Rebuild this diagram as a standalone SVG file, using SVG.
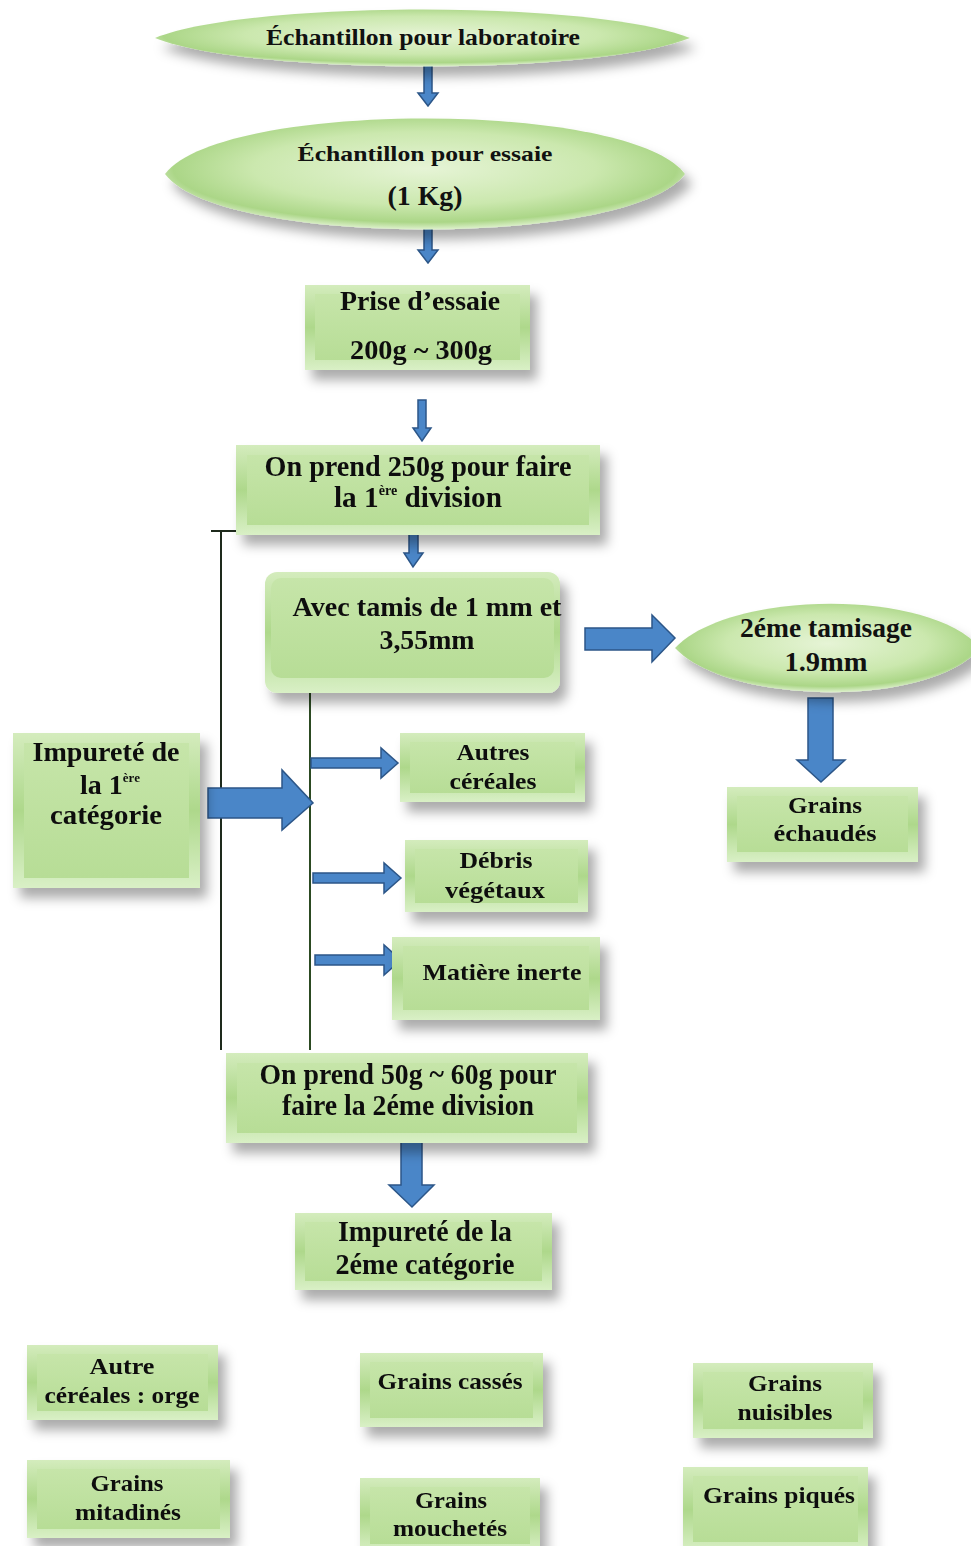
<svg xmlns="http://www.w3.org/2000/svg" width="971" height="1546" viewBox="0 0 971 1546">
<defs>
<filter id="sh" x="-20%" y="-20%" width="150%" height="160%">
<feDropShadow dx="7" dy="10" stdDeviation="6" flood-color="#000" flood-opacity="0.33"/>
</filter>
<radialGradient id="eg" cx="50%" cy="45%" r="55%">
<stop offset="0" stop-color="#e6f4d6"/>
<stop offset="0.6" stop-color="#cbe8ae"/>
<stop offset="0.88" stop-color="#abd687"/>
<stop offset="1" stop-color="#def1cd"/>
</radialGradient>
<linearGradient id="og" x1="0" y1="0" x2="0" y2="1">
<stop offset="0" stop-color="#d4ecbd"/>
<stop offset="0.5" stop-color="#aed88b"/>
<stop offset="1" stop-color="#d9f0c6"/>
</linearGradient>
<linearGradient id="ig" x1="0" y1="0" x2="0" y2="1">
<stop offset="0" stop-color="#c6e5a9"/>
<stop offset="1" stop-color="#b7dd96"/>
</linearGradient>
<style>
.t{font-family:"Liberation Serif","Times New Roman",serif;font-weight:bold;fill:#111;text-anchor:middle;}
.arr{fill:#4a86c8;stroke:#2c5688;stroke-width:1.5;stroke-linejoin:miter;}
.ln{stroke:#1e2a1c;stroke-width:2;fill:none;}
.ln2{stroke:#2c4a22;stroke-width:2;fill:none;}
.o{fill:url(#og);}
.i{fill:url(#ig);}
.e{fill:url(#eg);filter:url(#sh);}
.bx{filter:url(#sh);}
</style>
</defs>

<g id="connectors">
<line class="ln" x1="211" y1="531" x2="406" y2="531"/>
<line class="ln" x1="221" y1="531" x2="221" y2="1050"/>
<line class="ln2" x1="310" y1="688" x2="310" y2="1050"/>
<path class="arr" d="M424,55 H432 V93 H438 L428,106 L418,93 H424 Z"/>
<path class="arr" d="M424,220 H432 V250 H438 L428,263 L418,250 H424 Z"/>
<path class="arr" d="M418,400 H426 V428 H431 L422,441 L413,428 H418 Z"/>
<path class="arr" d="M409,530 H418 V553 H423 L413,567 L404,553 H409 Z"/>
<path class="arr" d="M585,628 H652 V615 L675,638 L652,662 V650 H585 Z"/>
<path class="arr" d="M808,698 H833 V760 H845 L821,782 L797,760 H808 Z"/>
<path class="arr" d="M208,788 H282 V770 L313,803 L282,830 V818 H208 Z"/>
<path class="arr" d="M311,758 H381 V748 L398,763 L381,778 V768 H311 Z"/>
<path class="arr" d="M313,873 H384 V863 L401,878 L384,893 V883 H313 Z"/>
<path class="arr" d="M315,955 H384 V945 L401,960 L384,975 V965 H315 Z"/>
<path class="arr" d="M401,1137 H422 V1185 H434 L412,1207 L389,1185 H401 Z"/>
</g>

<g id="n1">
<path class="e" d="M155,38 C250,0 595,0 690,38 C595,76 250,76 155,38 Z"/>
<text class="t" x="423" y="45" font-size="23" textLength="314" lengthAdjust="spacingAndGlyphs">Échantillon pour laboratoire</text>
</g>

<g id="n2">
<path class="e" d="M165,174 C220,100 630,100 685,174 C630,248 220,248 165,174 Z"/>
<text class="t" x="425" y="161" font-size="22" textLength="255" lengthAdjust="spacingAndGlyphs">Échantillon pour essaie</text>
<text class="t" x="425" y="205" font-size="27" textLength="75" lengthAdjust="spacingAndGlyphs">(1 Kg)</text>
</g>

<g id="n3" class="bx">
<rect class="o" x="305" y="285" width="225" height="85"/>
<rect class="i" x="315" y="294" width="205" height="66"/>
<text class="t" x="420" y="310" font-size="28" textLength="160" lengthAdjust="spacingAndGlyphs">Prise d’essaie</text>
<text class="t" x="421" y="359" font-size="28" textLength="142" lengthAdjust="spacingAndGlyphs">200g ~ 300g</text>
</g>

<g id="n4" class="bx">
<rect class="o" x="236" y="445" width="364" height="90"/>
<rect class="i" x="247" y="455" width="342" height="70"/>
<text class="t" x="418" y="476" font-size="29" textLength="307" lengthAdjust="spacingAndGlyphs">On prend 250g pour faire</text>
<text class="t" x="418" y="507" font-size="29" textLength="168" lengthAdjust="spacingAndGlyphs">la 1<tspan font-size="14" dy="-12">ère</tspan><tspan dy="12"> division</tspan></text>
</g>

<g id="n5" class="bx">
<rect class="o" x="265" y="572" width="295" height="121" rx="12"/>
<rect class="i" x="271" y="578" width="283" height="100" rx="10"/>
<text class="t" x="427" y="616" font-size="28" textLength="269" lengthAdjust="spacingAndGlyphs">Avec tamis de 1 mm et</text>
<text class="t" x="427" y="649" font-size="28" textLength="95" lengthAdjust="spacingAndGlyphs">3,55mm</text>
</g>

<g id="n6">
<path class="e" d="M675,648 C730,590 930,588 980,648 C930,708 730,706 675,648 Z"/>
<text class="t" x="826" y="637" font-size="28" textLength="172" lengthAdjust="spacingAndGlyphs">2éme tamisage</text>
<text class="t" x="826" y="671" font-size="28" textLength="83" lengthAdjust="spacingAndGlyphs">1.9mm</text>
</g>

<g id="n7" class="bx">
<rect class="o" x="727" y="787" width="191" height="75"/>
<rect class="i" x="737" y="796" width="171" height="56"/>
<text class="t" x="825" y="813" font-size="23" textLength="74" lengthAdjust="spacingAndGlyphs">Grains</text>
<text class="t" x="825" y="841" font-size="23" textLength="103" lengthAdjust="spacingAndGlyphs">échaudés</text>
</g>

<g id="n8" class="bx">
<rect class="o" x="13" y="733" width="187" height="155"/>
<rect class="i" x="24" y="743" width="165" height="135"/>
<text class="t" x="106" y="761" font-size="28" textLength="147" lengthAdjust="spacingAndGlyphs">Impureté de</text>
<text class="t" x="110" y="794" font-size="28">la 1<tspan font-size="13" dy="-12">ère</tspan></text>
<text class="t" x="106" y="824" font-size="28" textLength="112" lengthAdjust="spacingAndGlyphs">catégorie</text>
</g>

<g id="n9" class="bx">
<rect class="o" x="400" y="733" width="185" height="69"/>
<rect class="i" x="410" y="742" width="165" height="51"/>
<text class="t" x="493" y="760" font-size="23" textLength="73" lengthAdjust="spacingAndGlyphs">Autres</text>
<text class="t" x="493" y="789" font-size="23" textLength="87" lengthAdjust="spacingAndGlyphs">céréales</text>
</g>

<g id="n10" class="bx">
<rect class="o" x="405" y="840" width="183" height="72"/>
<rect class="i" x="415" y="849" width="163" height="54"/>
<text class="t" x="496" y="868" font-size="23" textLength="73" lengthAdjust="spacingAndGlyphs">Débris</text>
<text class="t" x="495" y="898" font-size="23" textLength="100" lengthAdjust="spacingAndGlyphs">végétaux</text>
</g>

<g id="n11" class="bx">
<rect class="o" x="392" y="937" width="208" height="83"/>
<rect class="i" x="403" y="946" width="186" height="64"/>
<text class="t" x="502" y="980" font-size="23" textLength="159" lengthAdjust="spacingAndGlyphs">Matière inerte</text>
</g>

<g id="n12" class="bx">
<rect class="o" x="226" y="1053" width="362" height="90"/>
<rect class="i" x="237" y="1063" width="340" height="70"/>
<text class="t" x="408" y="1084" font-size="29" textLength="297" lengthAdjust="spacingAndGlyphs">On prend 50g ~ 60g pour</text>
<text class="t" x="408" y="1115" font-size="29" textLength="252" lengthAdjust="spacingAndGlyphs">faire la 2éme division</text>
</g>

<g id="n13" class="bx">
<rect class="o" x="295" y="1213" width="257" height="77"/>
<rect class="i" x="305" y="1222" width="237" height="59"/>
<text class="t" x="425" y="1241" font-size="29" textLength="174" lengthAdjust="spacingAndGlyphs">Impureté de la</text>
<text class="t" x="425" y="1274" font-size="29" textLength="179" lengthAdjust="spacingAndGlyphs">2éme catégorie</text>
</g>

<g id="n14" class="bx">
<rect class="o" x="27" y="1345" width="191" height="75"/>
<rect class="i" x="37" y="1354" width="171" height="57"/>
<text class="t" x="122" y="1374" font-size="23" textLength="65" lengthAdjust="spacingAndGlyphs">Autre</text>
<text class="t" x="122" y="1403" font-size="23" textLength="155" lengthAdjust="spacingAndGlyphs">céréales : orge</text>
</g>

<g id="n15" class="bx">
<rect class="o" x="360" y="1353" width="183" height="74"/>
<rect class="i" x="370" y="1362" width="163" height="56"/>
<text class="t" x="450" y="1389" font-size="23" textLength="145" lengthAdjust="spacingAndGlyphs">Grains cassés</text>
</g>

<g id="n16" class="bx">
<rect class="o" x="693" y="1363" width="180" height="75"/>
<rect class="i" x="703" y="1372" width="160" height="57"/>
<text class="t" x="785" y="1391" font-size="23" textLength="74" lengthAdjust="spacingAndGlyphs">Grains</text>
<text class="t" x="785" y="1420" font-size="23" textLength="95" lengthAdjust="spacingAndGlyphs">nuisibles</text>
</g>

<g id="n17" class="bx">
<rect class="o" x="27" y="1460" width="203" height="78"/>
<rect class="i" x="37" y="1469" width="183" height="60"/>
<text class="t" x="127" y="1491" font-size="23" textLength="73" lengthAdjust="spacingAndGlyphs">Grains</text>
<text class="t" x="128" y="1520" font-size="23" textLength="106" lengthAdjust="spacingAndGlyphs">mitadinés</text>
</g>

<g id="n18" class="bx">
<rect class="o" x="360" y="1478" width="180" height="75"/>
<rect class="i" x="370" y="1487" width="160" height="57"/>
<text class="t" x="451" y="1508" font-size="23" textLength="72" lengthAdjust="spacingAndGlyphs">Grains</text>
<text class="t" x="450" y="1536" font-size="23" textLength="114" lengthAdjust="spacingAndGlyphs">mouchetés</text>
</g>

<g id="n19" class="bx">
<rect class="o" x="683" y="1467" width="185" height="85"/>
<rect class="i" x="693" y="1476" width="165" height="66"/>
<text class="t" x="779" y="1503" font-size="23" textLength="152" lengthAdjust="spacingAndGlyphs">Grains piqués</text>
</g>
</svg>
